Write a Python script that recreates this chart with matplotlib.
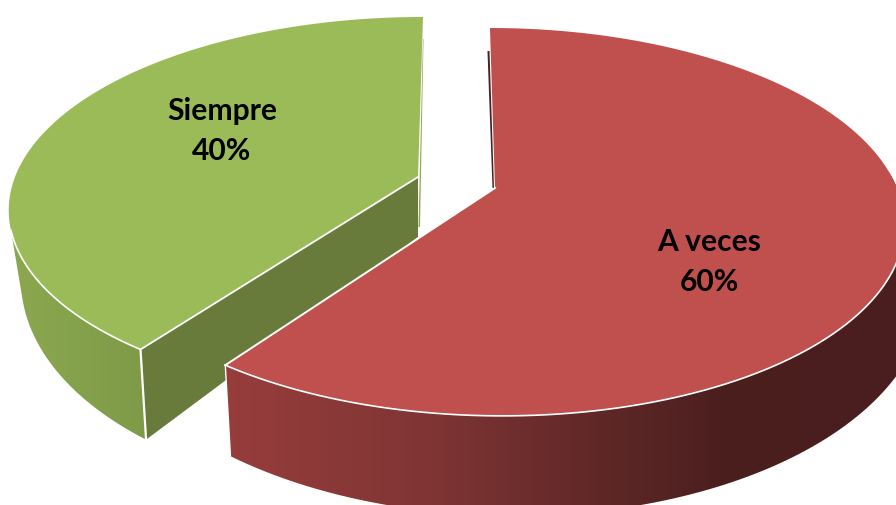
import numpy as np
import matplotlib
matplotlib.use('Agg')
import matplotlib.pyplot as plt
from matplotlib.colors import LinearSegmentedColormap
from matplotlib.patches import Polygon

# Survey answers, in percent
labels = ['A veces', 'Siempre']
values = [60, 40]

TOP_COLORS = ['#C0504D', '#9BBB59']
CUT_GREEN = '#687B3B'

# Perspective of the disc, in pixels
DEPTH = 60
BOTTOM_Y = 1.175


def ring(cx, cy, t, skew, rad_x, rad_y, persp):
    # Point(s) on the disc edge, t is the clockwise angle from 12 o'clock
    f = 1 / (1 + persp * np.cos(t))
    x = cx + (rad_x * np.sin(t) + skew * np.cos(t)) * f
    y = cy - rad_y * np.cos(t) * f
    return np.column_stack([x, y])


def gradient_wall(ax, pts, xs, colors, zorder):
    # Horizontal gradient clipped to the side wall of a slice
    cmap = LinearSegmentedColormap.from_list(
        'wall', [((x - xs[0]) / (xs[-1] - xs[0]), c) for x, c in zip(xs, colors)])
    im = ax.imshow(np.linspace(0, 1, 256).reshape(1, -1), cmap=cmap, aspect='auto',
                   extent=[xs[0], xs[-1], 505, 0], zorder=zorder)
    patch = Polygon(pts, closed=True, transform=ax.transData, fc='none', ec='none')
    ax.add_patch(patch)
    im.set_clip_path(patch)


fig = plt.figure(figsize=(8.96, 5.05), dpi=100)
ax = fig.add_axes([0, 0, 1, 1])

# Slice angles come straight from the values
total = sum(values)
red_end = 2 * np.pi * values[0] / total
green_end = red_end + 2 * np.pi * values[1] / total

# Green slice, pulled away to the upper left
gx, gy = 418, 177
g_shape = dict(skew=5.8, rad_x=403, rad_y=185.6, persp=0.16)
g_base = dict(skew=11, rad_x=395, rad_y=185.6 * BOTTOM_Y, persp=0.16)
t_wall = np.linspace(red_end, np.radians(254), 60)
top_g = ring(gx, gy, t_wall, **g_shape)
bot_g = ring(gx + 5, gy + DEPTH, t_wall, **g_base)
gradient_wall(ax, np.vstack([top_g, bot_g[::-1]]), [0, 150],
              ['#8CA950', '#7E9A48'], 1)

corner_top = top_g[0]
corner_bot = bot_g[0]
ax.add_patch(Polygon([(gx, gy), (gx, gy + DEPTH), corner_bot, corner_top],
                     closed=True, fc=CUT_GREEN, ec='none', zorder=2))

t_top = np.linspace(red_end, green_end, 200)
arc_g = ring(gx, gy, t_top, **g_shape)
end_g = arc_g[-1]
ax.fill(*np.vstack([[(gx, gy)], arc_g]).T, fc=TOP_COLORS[1], ec='none', zorder=3)
ax.plot(*top_g.T, color='white', lw=1.2, zorder=4)
ax.plot(*np.array([(gx, gy), corner_top]).T, color='white', lw=1.3, zorder=4)
ax.plot(*np.array([corner_top, corner_bot]).T, color='white', lw=1.6, zorder=4)

# Thin sliver of the far cut face next to the gap
ax.fill([end_g[0], end_g[0] + 0.5, gx + 2, gx + 0.5],
        [end_g[1] + 22, end_g[1] + 22, gy + 50, gy + 50], fc='#8AA64E', ec='none', zorder=2)

# Red slice
rx, ry = 495, 188
r_shape = dict(skew=-5.9, rad_x=402, rad_y=188, persp=0.175)
r_base = dict(skew=-5.9, rad_x=412, rad_y=188 * BOTTOM_Y, persp=0.175)
t_wall = np.linspace(np.radians(85), red_end, 120)
top_r = ring(rx, ry, t_wall, **r_shape)
bot_r = ring(rx + 12, ry + DEPTH, t_wall, **r_base)
gradient_wall(ax, np.vstack([top_r, bot_r[::-1]]), [224, 430, 600, 720, 896],
              ['#973D3C', '#7F3534', '#5F2827', '#4C1F1F', '#4A1E1E'], 2.5)

t_top = np.linspace(0, red_end, 300)
arc_r = ring(rx, ry, t_top, **r_shape)
ax.fill(*np.vstack([[(rx, ry)], arc_r]).T, fc=TOP_COLORS[0], ec='none', zorder=5)

corner_top = arc_r[-1]
corner_bot = bot_r[-1]
lower = arc_r[t_top > np.radians(95)]
ax.plot(*lower.T, color='white', lw=1.2, zorder=6)
ax.plot(*np.array([(rx, ry), corner_top]).T, color='white', lw=1.4, zorder=6)
ax.plot(*np.array([corner_top, corner_bot]).T, color='white', lw=1.0, zorder=6)

# Dark sliver on the other side of the gap
ax.fill([arc_r[0, 0] - 2.5, arc_r[0, 0] - 0.5, rx - 1, rx - 2.5],
        [arc_r[0, 1] + 23, arc_r[0, 1] + 23, ry, ry], fc='#4D2020', ec='none', zorder=4)

# Slice labels
label_pos = [(709, 262), (222, 131)]
for name, val, (lx, ly) in zip(labels, values, label_pos):
    ax.text(lx, ly, f'{name}\n{val}%', ha='center', va='center', fontsize=21.6,
            family='Lato', fontweight='bold', color='black', linespacing=1.5, zorder=8)

ax.set_xlim(0, 896)
ax.set_ylim(505, 0)
ax.axis('off')
fig.savefig('out.png', dpi=100, facecolor='white')
